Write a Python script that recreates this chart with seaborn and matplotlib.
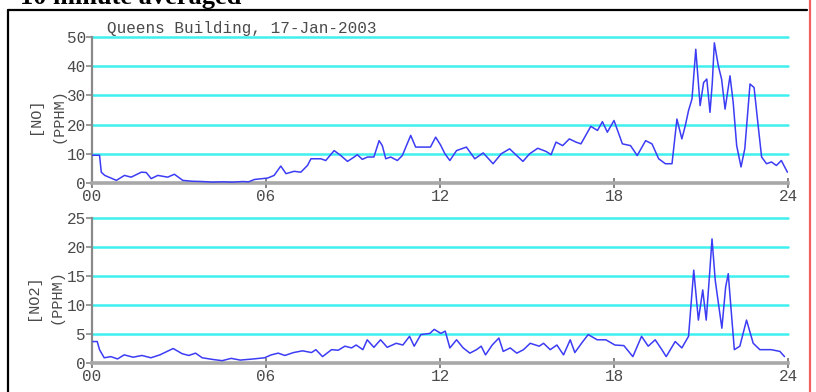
import matplotlib
matplotlib.use("Agg")
import matplotlib.pyplot as plt
import seaborn as sns
import pandas as pd

# 10-minute averaged NO readings (hour of day, ppHM)
no_hours = [0.0, 0.26, 0.32, 0.44, 0.84, 1.12, 1.35, 1.70, 1.87, 2.04, 2.27, 2.61, 2.84,
            3.13, 3.45, 3.80, 4.15, 4.50, 4.85, 5.20, 5.40, 5.60, 6.06, 6.28, 6.51, 6.69,
            6.97, 7.20, 7.43, 7.55, 7.89, 8.06, 8.35, 8.58, 8.81, 9.04, 9.15, 9.32, 9.50,
            9.72, 9.90, 10.01, 10.13, 10.30, 10.53, 10.70, 10.99, 11.16, 11.33, 11.67,
            11.85, 12.02, 12.17, 12.34, 12.57, 12.91, 13.20, 13.49, 13.83, 14.11, 14.40,
            14.86, 15.09, 15.37, 15.66, 15.83, 16.00, 16.23, 16.46, 16.69, 16.86, 17.20,
            17.43, 17.60, 17.77, 18.00, 18.29, 18.57, 18.80, 19.09, 19.31, 19.54, 19.77,
            20.00, 20.17, 20.34, 20.46, 20.57, 20.69, 20.82, 20.97, 21.09, 21.20, 21.31,
            21.39, 21.46, 21.60, 21.71, 21.83, 22.00, 22.11, 22.23, 22.38, 22.51, 22.69,
            22.83, 22.97, 23.09, 23.26, 23.43, 23.60, 23.77, 23.98]
no_values = [9.5, 9.5, 3.7, 2.6, 0.9, 2.6, 2.0, 3.7, 3.6, 1.5, 2.6, 2.0, 3.0,
             0.9, 0.6, 0.5, 0.3, 0.4, 0.3, 0.5, 0.4, 1.2, 1.7, 2.6, 5.8, 3.2,
             4.0, 3.7, 6.0, 8.3, 8.3, 7.7, 11.1, 9.4, 7.4, 8.9, 9.7, 8.1, 8.9,
             8.9, 14.5, 12.8, 8.3, 8.9, 7.7, 9.4, 16.3, 12.3, 12.3, 12.3,
             15.7, 13.0, 10.0, 7.7, 11.1, 12.3, 8.3, 10.3, 6.6, 10.0, 11.7,
             7.4, 10.0, 11.9, 10.8, 9.7, 14.0, 12.8, 15.1, 14.0, 13.4, 19.4,
             18.0, 21.0, 17.4, 21.4, 13.4, 12.8, 9.4, 14.5, 13.4, 8.3, 6.6,
             6.6, 21.9, 15.1, 19.7, 24.8, 28.8, 45.8, 26.5, 34.4, 35.6, 24.2,
             34.4, 48.0, 40.0, 35.6, 25.3, 36.7, 27.6, 12.8, 5.5, 11.7, 33.9,
             32.7, 19.7, 8.9, 6.6, 7.2, 6.0, 7.7, 3.7]

# 10-minute averaged NO2 readings (hour of day, ppHM)
no2_hours = [0.03, 0.18, 0.26, 0.42, 0.65, 0.88, 1.11, 1.42, 1.72, 2.03, 2.34, 2.80,
             3.11, 3.34, 3.57, 3.80, 4.18, 4.49, 4.80, 5.11, 5.57, 5.95, 6.18, 6.42,
             6.65, 6.95, 7.26, 7.57, 7.72, 7.95, 8.26, 8.49, 8.72, 8.95, 9.11, 9.34,
             9.49, 9.72, 9.95, 10.18, 10.49, 10.72, 10.95, 11.11, 11.34, 11.65, 11.80,
             12.03, 12.18, 12.34, 12.57, 12.80, 13.03, 13.26, 13.42, 13.57, 13.80,
             14.03, 14.18, 14.42, 14.65, 14.88, 15.11, 15.42, 15.57, 15.80, 16.03,
             16.26, 16.49, 16.65, 16.88, 17.11, 17.42, 17.72, 18.03, 18.34, 18.65,
             18.95, 19.18, 19.42, 19.65, 19.80, 20.11, 20.34, 20.57, 20.75, 20.91,
             21.06, 21.18, 21.29, 21.38, 21.49, 21.60, 21.72, 21.85, 21.94, 22.03,
             22.15, 22.34, 22.57, 22.80, 23.03, 23.42, 23.72, 23.88]
no2_values = [3.7, 3.7, 2.3, 0.9, 1.1, 0.7, 1.4, 1.0, 1.3, 0.9, 1.4, 2.5,
              1.6, 1.3, 1.7, 0.9, 0.6, 0.4, 0.8, 0.5, 0.7, 0.9, 1.4, 1.7,
              1.3, 1.8, 2.1, 1.8, 2.3, 1.1, 2.3, 2.2, 2.9, 2.6, 3.1, 2.3,
              4.0, 2.7, 4.0, 2.7, 3.4, 3.1, 4.6, 2.9, 4.9, 5.1, 5.8,
              5.1, 5.5, 2.6, 4.0, 2.6, 1.7, 2.3, 2.9, 1.4, 3.1,
              4.3, 2.0, 2.6, 1.7, 2.3, 3.4, 2.9, 3.4, 2.3, 3.1,
              1.4, 4.0, 1.8, 3.4, 4.9, 4.0, 4.0, 3.1, 3.0, 1.1,
              4.6, 2.9, 4.0, 2.3, 1.1, 3.7, 2.6, 4.6, 16.0, 7.4,
              12.6, 7.4, 14.9, 21.4, 14.3, 10.3, 6.0, 13.1, 15.4, 9.7,
              2.3, 2.9, 7.4, 3.4, 2.3, 2.3, 2.0, 1.1]

x_ticks = [0, 6, 12, 18, 24]
x_labels = ["00", "06", "12", "18", "24"]
no_ticks = [0, 10, 20, 30, 40, 50]
no2_ticks = [0, 5, 10, 15, 20, 25]

site_title = "Queens Building, 17-Jan-2003"
page_heading = "10 minute averaged"

sns.set_style("white")
plt.rcParams["font.family"] = ["Liberation Mono", "DejaVu Sans Mono"]

W, H = 816, 392
fig = plt.figure(figsize=(W / 100, H / 100), dpi=100)

LINE = "#3c3cf5"
GRID = "#3ff0f0"
AXIS = "#8a8a8a"
TXT = "#4a4a4a"


def px_axes(x0, y_top, x1, y_bot):
    return fig.add_axes([x0 / W, 1 - y_bot / H, (x1 - x0) / W, (y_bot - y_top) / H])


def style_panel(ax, yticks, ymax):
    ax.set_xlim(0, 24)
    ax.set_ylim(0, ymax)
    ax.set_facecolor("white")
    for s in ("top", "right"):
        ax.spines[s].set_visible(False)
    ax.spines["left"].set_color(AXIS)
    ax.spines["left"].set_linewidth(1.6)
    ax.spines["bottom"].set_color("#a8a8a8")
    ax.spines["bottom"].set_linewidth(2.6)
    ax.set_yticks(yticks)
    ax.set_yticklabels([str(t) for t in yticks])
    ax.set_xticks(x_ticks)
    ax.set_xticklabels(x_labels)
    ax.tick_params(axis="y", direction="out", length=4, width=1.2, color=AXIS,
                   labelsize=11.5, labelcolor=TXT, pad=0.5, left=True)
    ax.tick_params(axis="x", direction="inout", length=7, width=1.2, color="#707070",
                   labelsize=11.5, labelcolor=TXT, pad=0.5, bottom=True)
    for t in yticks[1:]:
        ax.axhline(t, color=GRID, lw=1.8, zorder=1, clip_on=False)
    ax.grid(False)
    ax.set_xlabel("")
    ax.set_ylabel("")


df_no = pd.DataFrame({"hour": no_hours, "ppHM": no_values})
df_no2 = pd.DataFrame({"hour": no2_hours, "ppHM": no2_values})

ax1 = px_axes(92, 37, 788, 183)
sns.lineplot(data=df_no, x="hour", y="ppHM", ax=ax1, color=LINE, lw=1.1, zorder=3)
style_panel(ax1, no_ticks, 50)
ax1.text(0.022, 1.005, site_title, transform=ax1.transAxes, ha="left", va="bottom",
         fontsize=11.5, color=TXT)

ax2 = px_axes(92, 218, 788, 363)
sns.lineplot(data=df_no2, x="hour", y="ppHM", ax=ax2, color=LINE, lw=1.1, zorder=3)
style_panel(ax2, no2_ticks, 25)

# rotated two-line axis captions
for (xa, xb, yc, name) in [(35, 58, 116, "[NO]"), (33, 57, 297, "[NO2]")]:
    fig.text(xa / W, 1 - yc / H, name, rotation=90, ha="center", va="center",
             fontsize=11, color=TXT)
    fig.text(xb / W, 1 - yc / H, "(PPHM)", rotation=90, ha="center", va="center",
             fontsize=11, color=TXT)

# page heading, partly above the top edge
fig.text(20 / W, 1 - 4 / H, page_heading, ha="left", va="baseline", fontsize=19,
         fontweight="bold", family="Liberation Serif", color="black")

# frame around the plots
fig.add_artist(plt.Line2D([8 / W, 8 / W], [0, 1 - 10 / H], color="black", lw=1.6,
                          transform=fig.transFigure))
fig.add_artist(plt.Line2D([8 / W, 807 / W], [1 - 10 / H, 1 - 10 / H], color="black",
                          lw=1.6, transform=fig.transFigure))
fig.add_artist(plt.Line2D([809.5 / W, 809.5 / W], [0, 1], color="#f06060", lw=1.6,
                          transform=fig.transFigure))

fig.savefig("out.png", dpi=100)
